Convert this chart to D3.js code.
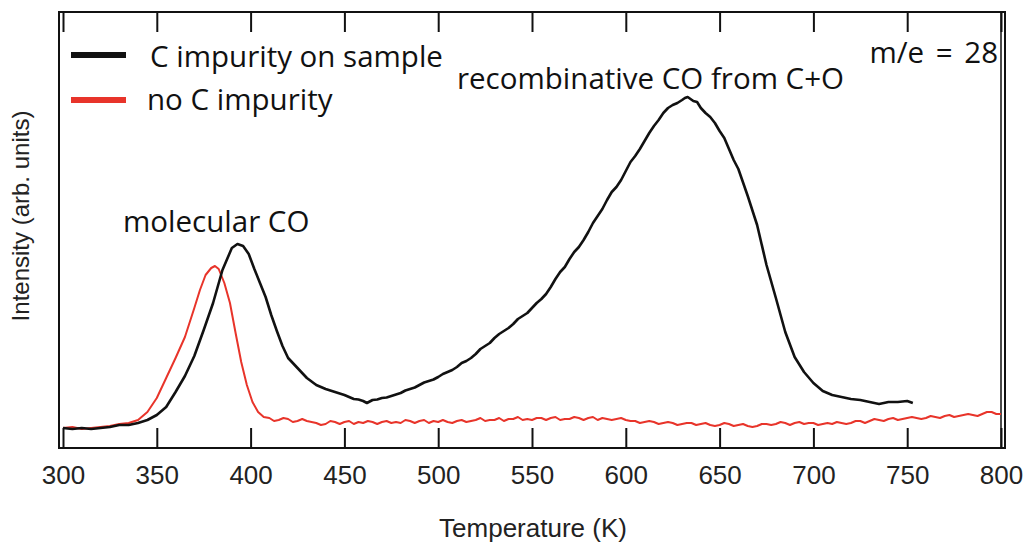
<!DOCTYPE html>
<html>
<head>
<meta charset="utf-8">
<script src="https://cdn.jsdelivr.net/npm/d3@7"></script>
<style>
  html, body { margin: 0; padding: 0; background: #fff; }
  svg { display: block; }
</style>
</head>
<body>
<svg id="chart" width="1026" height="542"></svg>
<script>
// ---- data (arbitrary intensity units) ----
const tempC = [300,305,310,315,320,325,330,335,340,345,350,355,360,365,370,375,380,385,390,393,396,399,402,405,408,411,414,417,420,425,430,435,440,442.5,445,447.5,450,452.5,455,457.5,460,462,465,467.5,470,472.5,475,477.5,480,482.5,485,487.5,490,492.5,495,497.5,500,502.5,505,507.5,510,512.5,515,517.5,520,522.5,525,527.5,530,532.5,535,537.5,540,542.5,545,547.5,550,552.5,555,557.5,560,562.5,565,567.5,570,572.5,575,577.5,580,582.5,585,587.5,590,592.5,595,597.5,600,602.5,605,607.5,610,612.5,615,617.5,620,622.5,625,627.5,630,631.5,633,636,638,640,642.5,645,647.5,650,652.5,655,657.5,660,665,670,675,680,685,690,695,700,705,710,715,720,725,730,735,740,745,750,753];
const intC  = [0.20,0.19,0.20,0.19,0.20,0.21,0.23,0.23,0.25,0.28,0.33,0.41,0.56,0.72,0.92,1.18,1.45,1.78,2.00,2.04,2.02,1.94,1.79,1.65,1.51,1.33,1.17,1.02,0.90,0.80,0.70,0.63,0.59,0.575,0.56,0.545,0.53,0.51,0.49,0.485,0.47,0.45,0.48,0.485,0.50,0.505,0.52,0.535,0.55,0.575,0.59,0.605,0.63,0.655,0.67,0.685,0.71,0.74,0.76,0.78,0.81,0.85,0.87,0.90,0.94,0.99,1.02,1.05,1.10,1.14,1.17,1.20,1.24,1.29,1.32,1.35,1.40,1.45,1.49,1.54,1.61,1.69,1.76,1.81,1.89,1.96,2.01,2.08,2.16,2.25,2.32,2.39,2.48,2.56,2.61,2.68,2.77,2.86,2.92,2.99,3.07,3.15,3.22,3.28,3.35,3.40,3.43,3.45,3.48,3.50,3.51,3.47,3.46,3.40,3.35,3.31,3.25,3.17,3.10,2.99,2.88,2.79,2.52,2.23,1.83,1.50,1.16,0.91,0.76,0.65,0.57,0.53,0.51,0.49,0.48,0.46,0.44,0.46,0.46,0.47,0.45];

const tempN = [300,305,310,315,320,325,330,335,340,345,350,355,360,365,370,373,376,379,381,383,386,389,392,395,398,401,404,407,410,412.5,415,417.5,420,422.5,425,427.5,430,432.5,435,437.5,440,442.5,445,447.5,450,452.5,455,457.5,460,462.5,465,467.5,470,472.5,475,477.5,480,482.5,485,487.5,490,492.5,495,497.5,500,502.5,505,507.5,510,512.5,515,517.5,520,522.5,525,527.5,530,532.5,535,537.5,540,542.5,545,547.5,550,552.5,555,557.5,560,562.5,565,567.5,570,572.5,575,577.5,580,582.5,585,587.5,590,592.5,595,597.5,600,602.5,605,607.5,610,612.5,615,617.5,620,622.5,625,627.5,630,632.5,635,637.5,640,642.5,645,647.5,650,652.5,655,657.5,660,662.5,665,667.5,670,672.5,675,677.5,680,682.5,685,687.5,690,692.5,695,697.5,700,702.5,705,707.5,710,712.5,715,717.5,720,722.5,725,727.5,730,732.5,735,737.5,740,742.5,745,747.5,750,752.5,755,757.5,760,762.5,765,767.5,770,772.5,775,777.5,780,782.5,785,787.5,790,792.5,795,797.5,800];
const intN  = [0.20,0.21,0.19,0.20,0.21,0.22,0.24,0.25,0.28,0.36,0.50,0.70,0.90,1.11,1.40,1.58,1.73,1.80,1.82,1.79,1.65,1.45,1.15,0.86,0.63,0.46,0.36,0.31,0.30,0.27,0.28,0.30,0.29,0.26,0.27,0.29,0.27,0.26,0.25,0.23,0.24,0.27,0.26,0.24,0.26,0.27,0.24,0.26,0.25,0.27,0.26,0.24,0.26,0.27,0.25,0.26,0.25,0.28,0.27,0.25,0.27,0.28,0.25,0.27,0.26,0.28,0.26,0.25,0.27,0.28,0.26,0.27,0.28,0.30,0.27,0.28,0.28,0.30,0.27,0.29,0.29,0.31,0.28,0.29,0.28,0.30,0.30,0.28,0.30,0.31,0.28,0.29,0.29,0.31,0.30,0.28,0.30,0.31,0.28,0.30,0.29,0.28,0.29,0.30,0.28,0.27,0.27,0.25,0.26,0.27,0.26,0.24,0.25,0.26,0.25,0.23,0.24,0.25,0.25,0.23,0.24,0.25,0.23,0.22,0.23,0.25,0.24,0.22,0.23,0.24,0.22,0.21,0.22,0.24,0.24,0.23,0.24,0.26,0.25,0.23,0.25,0.26,0.24,0.25,0.25,0.23,0.24,0.25,0.24,0.26,0.25,0.24,0.25,0.27,0.27,0.25,0.27,0.29,0.28,0.27,0.29,0.30,0.28,0.29,0.30,0.31,0.30,0.29,0.30,0.32,0.31,0.30,0.32,0.33,0.31,0.32,0.33,0.34,0.33,0.32,0.34,0.36,0.36,0.34,0.34];

const xTicks = [300,350,400,450,500,550,600,650,700,750,800];
const seriesNames = ["C impurity on sample", "no C impurity"];
const seriesColors = ["#111111", "#e8342a"];

// ---- layout ----
const svg = d3.select("#chart");
const frame = {left: 59, right: 1005, top: 12, bottom: 448};
const x = d3.scaleLinear().domain([300, 800]).range([63, 1001]);
const y = d3.scaleLinear().domain([0, 4.36]).range([frame.bottom, frame.top]);

const axisFont = "'Liberation Sans', Arial, Helvetica, sans-serif";
const annFont = "'Open Sans', 'Noto Sans', sans-serif";

// frame
svg.append("rect")
  .attr("x", frame.left).attr("y", frame.top)
  .attr("width", frame.right - frame.left).attr("height", frame.bottom - frame.top)
  .attr("fill", "none").attr("stroke", "#111").attr("stroke-width", 2);

// bottom axis (ticks inward)
const gx = svg.append("g").attr("transform", `translate(0,${frame.bottom})`)
  .call(d3.axisBottom(x).tickValues(xTicks).tickSize(-20).tickPadding(18).tickFormat(d3.format("d")));
gx.select(".domain").remove();
gx.selectAll(".tick line").attr("stroke", "#111").attr("stroke-width", 2);
gx.selectAll(".tick text").attr("font-family", axisFont).attr("font-size", 26).attr("fill", "#222");

// top axis ticks (inward)
const gt = svg.append("g").attr("transform", `translate(0,${frame.top})`)
  .call(d3.axisTop(x).tickValues(xTicks).tickSize(-20).tickFormat(""));
gt.select(".domain").remove();
gt.selectAll(".tick line").attr("stroke", "#111").attr("stroke-width", 2);

// right double line
svg.append("line").attr("x1", x(800)).attr("x2", x(800))
  .attr("y1", frame.top).attr("y2", frame.bottom)
  .attr("stroke", "#111").attr("stroke-width", 1.5);

// axis titles
svg.append("text").attr("x", 533).attr("y", 537).attr("text-anchor", "middle")
  .attr("font-family", axisFont).attr("font-size", 26).attr("fill", "#222")
  .text("Temperature (K)");
svg.append("text").attr("transform", "translate(29,216) rotate(-90)").attr("text-anchor", "middle")
  .attr("font-family", axisFont).attr("font-size", 24).attr("fill", "#222")
  .text("Intensity (arb. units)");

// lines
const line = d3.line().x(d => x(d[0])).y(d => y(d[1]));
svg.append("clipPath").attr("id", "clip").append("rect")
  .attr("x", frame.left).attr("y", frame.top)
  .attr("width", frame.right - frame.left).attr("height", frame.bottom - frame.top);

svg.append("path").datum(d3.zip(tempN, intN))
  .attr("d", line).attr("fill", "none").attr("stroke", seriesColors[1])
  .attr("stroke-width", 2).attr("stroke-linejoin", "round").attr("clip-path", "url(#clip)");
svg.append("path").datum(d3.zip(tempC, intC))
  .attr("d", line).attr("fill", "none").attr("stroke", seriesColors[0])
  .attr("stroke-width", 2.6).attr("stroke-linejoin", "round").attr("clip-path", "url(#clip)");

// legend
const legY = [55, 100];
const legTextY = [67, 110];
const legTextX = [150, 147];
seriesNames.forEach((name, i) => {
  svg.append("line").attr("x1", 71).attr("x2", 126).attr("y1", legY[i]).attr("y2", legY[i])
    .attr("stroke", seriesColors[i]).attr("stroke-width", 6);
  svg.append("text").attr("x", legTextX[i]).attr("y", legTextY[i])
    .attr("font-family", annFont).attr("font-size", 29.5).attr("fill", "#111")
    .text(name);
});

// annotations
svg.append("text").attr("x", 123).attr("y", 232)
  .attr("font-family", annFont).attr("font-size", 29.5).attr("fill", "#111").text("molecular CO");
svg.append("text").attr("x", 457).attr("y", 89)
  .attr("font-family", annFont).attr("font-size", 29.5).attr("fill", "#111").text("recombinative CO from C+O");
svg.append("text").attr("x", 998).attr("y", 63).attr("text-anchor", "end")
  .attr("font-family", annFont).attr("font-size", 29.5).attr("word-spacing", 4).attr("fill", "#111").text("m/e = 28");
</script>
</body>
</html>
